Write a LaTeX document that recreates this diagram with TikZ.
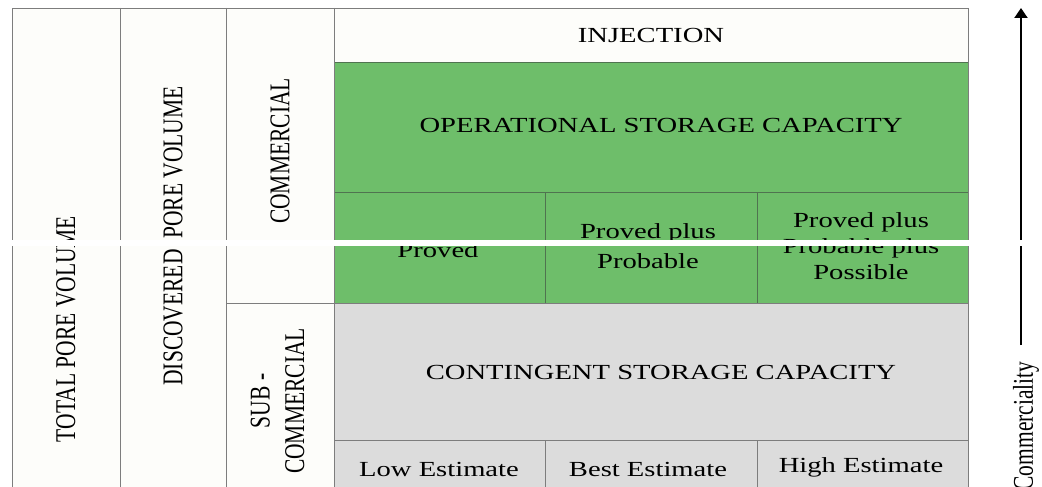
\documentclass[tikz,border=0pt]{standalone}
\usepackage{fontspec}
\setmainfont{Liberation Serif}
\usepackage{graphicx}
\usetikzlibrary{arrows.meta}
\definecolor{cellgreen}{RGB}{110,190,106}
\definecolor{cellgrey}{RGB}{220,220,220}
\definecolor{rulegrey}{RGB}{125,125,125}
\definecolor{rulegreen}{RGB}{80,115,80}
\definecolor{paper}{RGB}{253,253,250}
\newcommand\hs[1]{\scalebox{1.33}[1]{#1}}
\newcommand\vs[1]{\scalebox{1.33}[1]{\rotatebox{90}{#1}}}
\newcommand\stk[1]{\begin{tabular}{@{}c@{}}#1\end{tabular}}
\tikzset{
  txt/.style={inner sep=0pt, font=\fontsize{21.5}{26}\selectfont, text=black},
  rl/.style={draw=rulegrey, line width=0.9pt},
  rg/.style={draw=rulegreen, line width=0.8pt}
}
\begin{document}
\begin{tikzpicture}[x=1pt,y=-1pt]
\useasboundingbox (0,0) rectangle (1042,487);
\fill[white] (0,0) rectangle (1042,487);
\fill[paper] (12,8) rectangle (968,487);
% coloured areas
\fill[cellgreen] (334,62) rectangle (968,303);
\fill[cellgrey] (334,303) rectangle (968,487);
% green cell rules
\draw[rg] (334,62) -- (968,62);
\draw[rg] (334,192) -- (968,192);
\draw[rg] (545,192) -- (545,303);
\draw[rg] (757,192) -- (757,303);
% grey cell rules
\draw[rl] (226,303) -- (968,303);
\draw[rl] (334,440) -- (968,440);
\draw[rl] (545,440) -- (545,487);
\draw[rl] (757,440) -- (757,487);
% frame
\draw[rl] (12,487) -- (12,8) -- (968,8) -- (968,487);
\draw[rl] (120,8) -- (120,487);
\draw[rl] (226,8) -- (226,487);
\draw[rl] (334,8) -- (334,487);
% texts
\node[txt] (inj) at (651,35) {\hs{INJECTION}};
\node[txt] (osc) at (661,125) {\hs{OPERATIONAL STORAGE CAPACITY}};
\node[txt] (prv) at (438,250) {\hs{Proved}};
\node[txt] (ppp) at (648,248) {\hs{\stk{Proved plus\\[4pt]Probable}}};
\node[txt] (pppp) at (861,248) {\hs{\stk{Proved plus\\Probable plus\\Possible}}};
\node[txt] (csc) at (661,372) {\hs{CONTINGENT STORAGE CAPACITY}};
\node[txt] (low) at (439,469) {\hs{Low Estimate}};
\node[txt] (best) at (648,469) {\hs{Best Estimate}};
\node[txt] (high) at (861,467) {\hs{High Estimate}};
\node[txt] (tpv) at (66,329) {\vs{TOTAL PORE VOLUME}};
\node[txt] (dpv) at (173,236) {\vs{DISCOVERED\ \ PORE VOLUME}};
\node[txt] (com) at (280,151) {\vs{COMMERCIAL}};
\node[txt] (sub) at (280,401) {\vs{\stk{SUB -\\COMMERCIAL}}};
% commerciality arrow
\coordinate (abot) at (1021,345);
\coordinate (atop) at (1021,8);
\draw[line width=2pt, -{Triangle[length=10pt,width=13pt]}] (abot) -- (atop);
\begin{scope}
\clip (980,0) rectangle (1042,487);
\node[txt] (cty) at (1026,426) {\vs{Commerciality}};
\end{scope}
% white seam across the picture
\fill[white] (0,240) rectangle (1042,246);
\end{tikzpicture}
\end{document}
